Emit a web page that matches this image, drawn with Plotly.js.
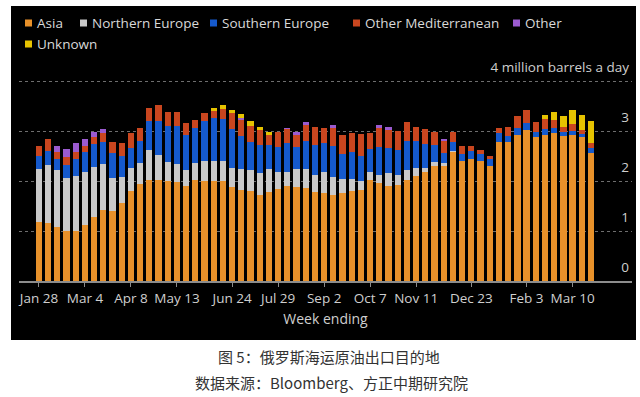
<!DOCTYPE html>
<html><head><meta charset="utf-8">
<script src="https://cdn.plot.ly/plotly-3.0.1.min.js"></script>
<style>
html,body{margin:0;padding:0;background:#fff;}
#wrap{position:relative;width:640px;height:397px;overflow:hidden;}
#bg{position:absolute;left:11px;top:6px;width:625px;height:334px;background:#000;}
#chart{position:absolute;left:0;top:0;width:640px;height:397px;}
</style></head>
<body><div id="wrap"><div id="bg"></div><div id="chart"></div></div>
<script>
// ---- data ----
const weeks = [
 '2022-01-28','2022-02-04','2022-02-11','2022-02-18','2022-02-25',
 '2022-03-04','2022-03-11','2022-03-18','2022-03-25','2022-04-01',
 '2022-04-08','2022-04-15','2022-04-22','2022-04-29','2022-05-06',
 '2022-05-13','2022-05-20','2022-05-27','2022-06-03','2022-06-10',
 '2022-06-17','2022-06-24','2022-07-01','2022-07-08','2022-07-15',
 '2022-07-22','2022-07-29','2022-08-05','2022-08-12','2022-08-19',
 '2022-08-26','2022-09-02','2022-09-09','2022-09-16','2022-09-23',
 '2022-09-30','2022-10-07','2022-10-14','2022-10-21','2022-10-28',
 '2022-11-04','2022-11-11','2022-11-18','2022-11-25','2022-12-02',
 '2022-12-09','2022-12-16','2022-12-23','2022-12-30','2023-01-06',
 '2023-01-13','2023-01-20','2023-01-27','2023-02-03','2023-02-10',
 '2023-02-17','2023-02-24','2023-03-03','2023-03-10','2023-03-17',
 '2023-03-24'];
const asia = [1.19,1.16,1.08,1.00,1.01,1.13,1.28,1.43,1.40,1.56,
 1.80,1.94,2.03,2.02,2.01,1.98,1.91,2.02,2.01,2.00,
 2.00,1.88,1.83,1.81,1.73,1.78,1.84,1.91,1.88,1.86,
 1.78,1.76,1.72,1.76,1.81,1.83,2.03,1.96,1.91,1.92,
 2.03,2.11,2.19,2.30,2.30,2.58,2.40,2.44,2.40,2.30,
 2.79,2.78,2.93,3.03,2.88,2.92,2.96,2.91,2.92,2.88,
 2.56];
const northernEurope = [1.05,1.16,1.14,1.06,1.09,1.05,1.00,0.92,0.67,0.52,
 0.46,0.42,0.59,0.50,0.38,0.36,0.32,0.34,0.40,0.40,
 0.40,0.38,0.41,0.41,0.43,0.46,0.35,0.28,0.36,0.38,
 0.35,0.43,0.36,0.28,0.24,0.17,0.15,0.17,0.25,0.20,
 0.20,0.15,0.07,0.08,0.06,0.03,0,0,0,0,
 0,0,0,0,0,0,0,0,0,0,
 0];
const southernEurope = [0.26,0.29,0.23,0.27,0.35,0.40,0.47,0.43,0.49,0.42,
 0.40,0.45,0.58,0.68,0.71,0.76,0.70,0.70,0.79,0.86,
 0.84,0.78,0.67,0.57,0.56,0.48,0.50,0.57,0.44,0.56,
 0.59,0.57,0.62,0.50,0.53,0.50,0.46,0.56,0.50,0.50,
 0.57,0.54,0.48,0.35,0.20,0.18,0.14,0.17,0.15,0.14,
 0.17,0.12,0.13,0.13,0.10,0.12,0.10,0.08,0.09,0.06,
 0.10];
const otherMediterranean = [0.21,0.23,0.13,0.15,0.13,0.13,0.13,0.18,0.23,0.26,
 0.30,0.25,0.26,0.32,0.28,0.28,0.23,0.17,0.16,0.15,
 0.21,0.32,0.32,0.32,0.31,0.20,0.30,0.28,0.24,0.32,
 0.36,0.30,0.36,0.38,0.38,0.44,0.33,0.37,0.36,0.39,
 0.38,0.29,0.30,0.25,0.24,0.19,0.16,0.09,0.07,0.07,
 0.10,0.18,0.24,0.26,0.20,0.20,0.17,0.09,0.13,0.08,
 0.10];
const other = [0,0,0.12,0.17,0.18,0.13,0.10,0.08,0,0,
 0,0,0,0,0,0,0,0,0,0,
 0,0,0.03,0,0,0,0,0.02,0.06,0.06,
 0,0,0.06,0,0,0,0,0.07,0.06,0,
 0,0,0,0,0.04,0,0,0,0,0,
 0,0,0,0,0,0,0,0,0,0,
 0];
const unknown = [0,0,0,0,0,0,0,0,0,0,
 0,0,0,0,0,0,0,0,0,0.05,
 0.07,0.07,0.08,0.10,0.05,0.06,0,0,0,0,
 0,0,0,0,0,0,0,0,0,0,
 0,0,0,0,0,0,0,0,0,0,
 0,0,0,0,0,0.09,0.15,0.22,0.28,0.30,
 0.44];
const seriesNames = ['Asia','Northern Europe','Southern Europe','Other Mediterranean','Other','Unknown'];
const seriesValues = [asia, northernEurope, southernEurope, otherMediterranean, other, unknown];
const tickDates = ['2022-01-28','2022-03-04','2022-04-08','2022-05-13','2022-06-24','2022-07-29',
 '2022-09-02','2022-10-07','2022-11-11','2022-12-23','2023-02-03','2023-03-10'];
const tickLabels = ['Jan 28','Mar 4','Apr 8','May 13','Jun 24','Jul 29','Sep 2','Oct 7','Nov 11','Dec 23','Feb 3','Mar 10'];
const yTickVals = [0,1,2,3,4];
const yTickText = ['0','1','2','3','4 million barrels a day'];
const caption1 = '图 5：俄罗斯海运原油出口目的地';
const caption2 = '数据来源：Bloomberg、方正中期研究院';

// ---- style / layout ----
const colors = ['#e8912a','#c9c9c9','#1559cc','#c9461f','#9b5bd0','#e6c300'];
const FONT = 'Open Sans, Lato, sans-serif';
const PL = 19, PR = 632, PT = 78, PB = 281;
const W = PR - PL, H = PB - PT;
const px2x = p => (p - PL) / W;
const py2y = p => (PB - p) / H;
const week = 7 * 86400000;
const t0 = Date.parse(weeks[0]);

const traces = seriesNames.map((n, i) => ({
  type: 'bar', name: n, x: weeks, y: seriesValues[i],
  marker: {color: colors[i], line: {width: 0}},
  showlegend: false, hoverinfo: 'skip'
}));

const legendPos = [[25,23],[80,23],[210,23],[353,23],[513,23],[25,44]];
const shapes = [], annotations = [];
seriesNames.forEach((n, i) => {
  const [sx, sy] = legendPos[i];
  shapes.push({type:'rect', xref:'paper', yref:'paper',
    x0: px2x(sx), x1: px2x(sx + 7), y0: py2y(sy + 3.5), y1: py2y(sy - 3.5),
    fillcolor: colors[i], line: {width: 0}});
  annotations.push({xref:'paper', yref:'paper', x: px2x(sx + 10), y: py2y(sy),
    xanchor:'left', yanchor:'middle', showarrow:false, text: n,
    font:{family: FONT, size: 13.5, color:'#d9d9d9'}});
});
annotations.push({xref:'paper', yref:'paper', x: px2x(329), y: py2y(356),
  xanchor:'center', yanchor:'middle', showarrow:false, text: caption1,
  font:{family:'Noto Sans CJK SC', size:15, color:'#333'}});
annotations.push({xref:'paper', yref:'paper', x: px2x(331), y: py2y(382),
  xanchor:'center', yanchor:'middle', showarrow:false, text: caption2,
  font:{family:'Noto Sans CJK SC', size:15, color:'#333'}});

const layout = {
  width: 640, height: 397,
  margin: {l: PL, r: 640 - PR, t: PT, b: 397 - PB, pad: 0},
  paper_bgcolor: 'rgba(0,0,0,0)', plot_bgcolor: 'rgba(0,0,0,0)',
  barmode: 'stack', bargap: 0.32,
  showlegend: false,
  font: {family: FONT, color: '#cfcfcf'},
  xaxis: {
    type: 'date', range: [t0 - 2.17 * week, t0 + 64.46 * week],
    tickvals: tickDates, ticktext: tickLabels,
    ticks: 'outside', ticklen: 4, tickwidth: 1, tickcolor: '#8c8c8c',
    showline: true, linecolor: '#8c8c8c', linewidth: 1.5,
    showgrid: false, zeroline: false, fixedrange: true,
    tickfont: {family: FONT, size: 13.5, color: '#cfcfcf'},
    title: {text: 'Week ending', font: {family: FONT, size: 14, color: '#cfcfcf'}, standoff: 8}
  },
  yaxis: {
    range: [0, H / 50], side: 'right',
    tickvals: yTickVals, ticktext: yTickText,
    ticklabelposition: 'inside', ticklabelshift: -14, ticklabeloverflow: 'allow',
    ticks: '', showgrid: true, gridcolor: '#6e6e6e', griddash: 'dot', gridwidth: 1,
    zeroline: false, showline: false, fixedrange: true,
    tickfont: {family: FONT, size: 13.5, color: '#cfcfcf'}
  },
  shapes: shapes, annotations: annotations
};
Plotly.newPlot('chart', traces, layout, {displayModeBar: false, staticPlot: true});
</script>
</body></html>
